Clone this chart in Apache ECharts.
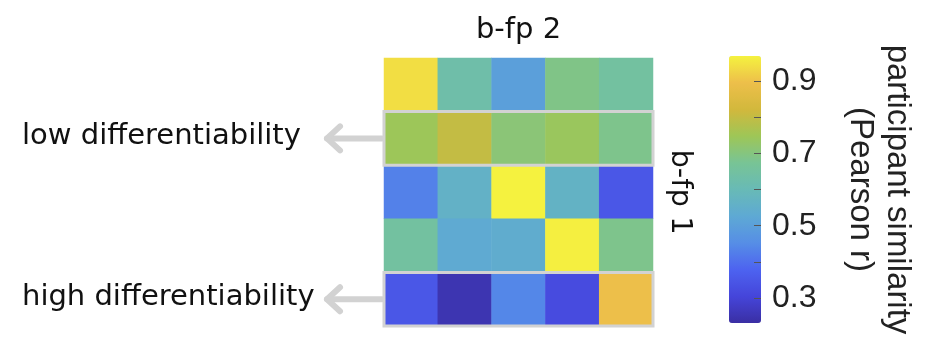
<!DOCTYPE html>
<html>
<head>
<meta charset="utf-8">
<script src="https://cdn.jsdelivr.net/npm/echarts@6/dist/echarts.min.js"></script>
<style>html,body{margin:0;padding:0;background:#fff}#c{width:931px;height:351px}</style>
</head>
<body>
<div id="c"></div>
<script>
// ---- data ----
const colLabels = ['1', '2', '3', '4', '5'];
const rowLabels = ['1', '2', '3', '4', '5'];
const row1 = [0.94, 0.63, 0.50, 0.69, 0.65];
const row2 = [0.745, 0.80, 0.71, 0.74, 0.685];
const row3 = [0.43, 0.56, 0.97, 0.565, 0.35];
const row4 = [0.65, 0.53, 0.54, 0.965, 0.685];
const row5 = [0.35, 0.25, 0.44, 0.32, 0.895];
const similarityRows = [row1, row2, row3, row4, row5];
const highlightRows = [1, 4];
const highlightNotes = ['low differentiability', 'high differentiability'];
const colorMin = 0.231;
const colorMax = 0.969;
const colorbarTicks = [0.3, 0.4, 0.5, 0.6, 0.7, 0.8, 0.9];
const colorbarLabels = [0.3, 0.5, 0.7, 0.9];
const xName = 'b-fp 2';
const yName = 'b-fp 1';
const colorbarName = 'participant similarity\n(Pearson r)';

// colormap (parula-like, as in reference)
const palette = ['#3A2FA3', '#4545DA', '#4D63F0', '#568EE6', '#5EA9D4', '#68BAB6',
                 '#78C495', '#9EC657', '#D2B83C', '#EDBF4A', '#F5F23F'];

const heatData = [];
similarityRows.forEach((r, ri) => r.forEach((v, ci) => heatData.push([ci, ri, v])));
const boxData = highlightRows.map(r => [0, r, colLabels.length - 1]);

const chart = echarts.init(document.getElementById('c'), null, {renderer: 'canvas'});
const hmFont = 'DejaVu Sans';
const cbFont = 'Liberation Sans';

chart.setOption({
  animation: false,
  backgroundColor: '#fff',
  grid: [
    {left: 384, top: 58, width: 269, height: 268},
    {left: 729, top: 56, width: 32, height: 267}
  ],
  xAxis: [
    {type: 'category', data: colLabels, gridIndex: 0, position: 'top',
     name: xName, nameLocation: 'middle', nameGap: 13,
     nameTextStyle: {fontFamily: hmFont, fontSize: 29, color: '#111'},
     axisLine: {show: false}, axisTick: {show: false}, axisLabel: {show: false}, splitLine: {show: false}},
    {type: 'value', gridIndex: 1, show: false, min: 0, max: 1}
  ],
  yAxis: [
    {type: 'category', data: rowLabels, gridIndex: 0, inverse: true, position: 'right',
     name: yName, nameLocation: 'middle', nameRotate: -90, nameGap: 12,
     nameTextStyle: {fontFamily: hmFont, fontSize: 29, color: '#111'},
     axisLine: {show: false}, axisTick: {show: false}, axisLabel: {show: false}, splitLine: {show: false}},
    {type: 'value', gridIndex: 1, position: 'right', min: colorMin, max: colorMax, z: 10,
     name: colorbarName, nameLocation: 'middle', nameRotate: -90, nameGap: 81,
     nameTextStyle: {fontFamily: cbFont, fontSize: 33, color: '#222', lineHeight: 37},
     axisLine: {show: false, onZero: false},
     axisTick: {show: true, inside: true, length: 7, customValues: colorbarTicks,
                lineStyle: {color: '#555', width: 1}},
     axisLabel: {show: true, customValues: colorbarLabels, margin: 11,
                 fontFamily: cbFont, fontSize: 32, color: '#222',
                 formatter: v => v.toFixed(1)},
     splitLine: {show: false}}
  ],
  visualMap: {
    type: 'continuous', seriesIndex: 0, min: colorMin, max: colorMax, z: 1,
    calculable: false, hoverLink: false, orient: 'vertical',
    left: 729, top: 56, itemWidth: 32, itemHeight: 267, padding: 0,
    inRange: {color: palette}
  },
  series: [
    {type: 'heatmap', xAxisIndex: 0, yAxisIndex: 0, data: heatData,
     itemStyle: {borderWidth: 0}, emphasis: {disabled: true}},
    {type: 'custom', xAxisIndex: 0, yAxisIndex: 0, data: boxData, z: 5,
     renderItem: function (params, api) {
       const s = api.coord([api.value(0), api.value(1)]);
       const e = api.coord([api.value(2), api.value(1)]);
       const sz = api.size([1, 1]);
       const left = s[0] - sz[0] / 2, right = e[0] + sz[0] / 2;
       const top = s[1] - sz[1] / 2, cy = s[1];
       const tip = left - 57;
       const grey = '#D2D2D2';
       return {
         type: 'group',
         children: [
           {type: 'rect', shape: {x: left, y: top, width: right - left, height: sz[1]},
            style: {fill: null, stroke: grey, lineWidth: 3}},
           {type: 'polyline', shape: {points: [[left - 2, cy], [tip, cy]]},
            style: {stroke: grey, lineWidth: 6, lineCap: 'round', fill: null}},
           {type: 'polyline', shape: {points: [[tip + 13, cy - 12], [tip, cy], [tip + 13, cy + 12]]},
            style: {stroke: grey, lineWidth: 6, lineCap: 'round', lineJoin: 'round', fill: null}},
           {type: 'text', x: 22, y: cy - 2,
            style: {text: highlightNotes[params.dataIndex], fontFamily: hmFont, fontSize: 29,
                    fill: '#111', align: 'left', verticalAlign: 'middle'}}
         ]
       };
     }}
  ]
});
</script>
</body>
</html>
